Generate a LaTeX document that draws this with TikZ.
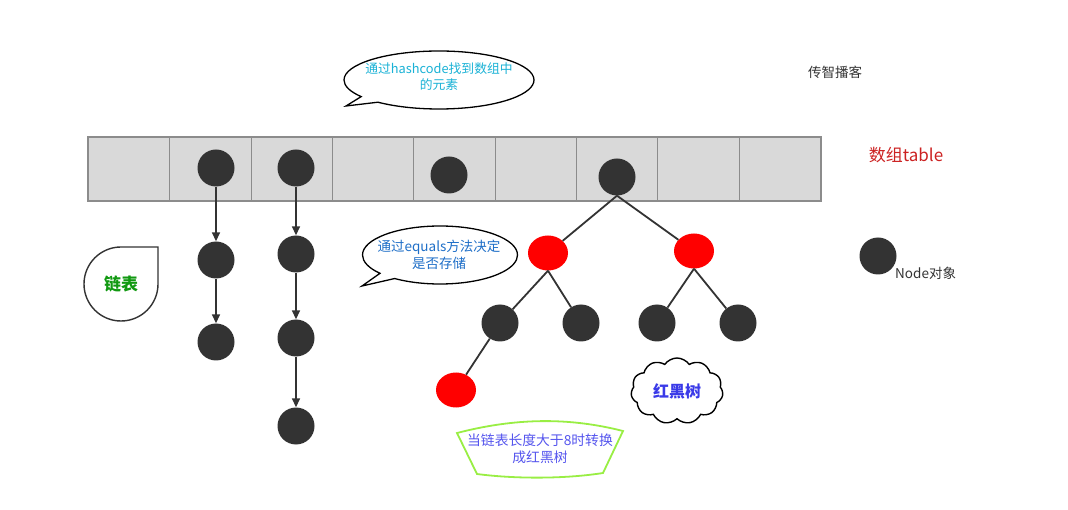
\documentclass[tikz,border=0pt]{standalone}
\usepackage{fontspec}
\setmainfont{Noto Sans CJK SC}
\usetikzlibrary{shapes.geometric,shapes.callouts,shapes.symbols,arrows.meta}
\definecolor{nodegray}{HTML}{333333}
\definecolor{cellgray}{HTML}{D9D9D9}
\definecolor{cellline}{HTML}{8C8C8C}
\definecolor{cyantext}{HTML}{1AB2D6}
\definecolor{bluetext}{HTML}{1F6FC8}
\definecolor{greentext}{HTML}{119911}
\definecolor{violettext}{HTML}{3A3AE8}
\definecolor{fantext}{HTML}{5555EE}
\definecolor{fanline}{HTML}{99EE44}
\definecolor{tablered}{HTML}{CC2222}
\tikzset{
  bnode/.style={circle,fill=nodegray,minimum size=37pt,inner sep=0pt},
  rnode/.style={ellipse,fill=red,minimum width=40pt,minimum height=35pt,inner sep=0pt},
  cell/.style={draw=cellline,fill=cellgray,line width=0.8pt,minimum width=81.33pt,minimum height=63pt,inner sep=0pt,anchor=north west},
  arr/.style={draw=nodegray,line width=1.6pt,-{Triangle[length=9pt,width=8pt]}},
  edge/.style={draw=nodegray,line width=1.8pt},
  callout/.style={ellipse callout,draw=black,line width=1.3pt,fill=white,inner sep=0pt},
  ctext/.style={align=center,inner sep=0pt}
}
\begin{document}
\begin{tikzpicture}[x=1pt,y=-1pt]
\useasboundingbox (0,0) rectangle (1068,510);
% array
\foreach \i in {0,...,8}{
  \node[cell] (c\i) at ({88+\i*81.333},137) {};
}
\draw[cellline,line width=1.8pt] (c0.north west) rectangle (c8.south east);
% top nodes
\node[bnode] (a1) at (216,168) {};
\node[bnode] (a2) at (296,168) {};
\node[bnode] (a3) at (449,175) {};
\node[bnode] (root) at (617,177) {};
% chain 1
\node[bnode] (l11) at (216,260) {};
\node[bnode] (l12) at (216,342) {};
\draw[arr] (a1) -- (l11);
\draw[arr] (l11) -- (l12);
% chain 2
\node[bnode] (l21) at (296,254) {};
\node[bnode] (l22) at (296,338) {};
\node[bnode] (l23) at (296,426) {};
\draw[arr] (a2) -- (l21);
\draw[arr] (l21) -- (l22);
\draw[arr] (l22) -- (l23);
% tree
\node[rnode] (r1) at (548,253) {};
\node[rnode] (r2) at (694,251) {};
\node[bnode] (t1) at (500,323) {};
\node[bnode] (t2) at (581,323) {};
\node[bnode] (t3) at (657,323) {};
\node[bnode] (t4) at (738,323) {};
\node[rnode] (r3) at (456,390) {};
\draw[edge] (root.south) -- (r1);
\draw[edge] (root.south) -- (r2);
\draw[edge] (r1.south) -- (t1);
\draw[edge] (r1.south) -- (t2);
\draw[edge] (r2.south) -- (t3);
\draw[edge] (r2.south) -- (t4);
\draw[edge] (t1) -- (r3);
% legend
\node[bnode] (leg) at (878,256) {};
\node[anchor=west,font=\fontsize{13.5}{16}\selectfont,text=nodegray,inner sep=0pt] (legtext) at (895,273) {Node对象};
% labels
\node[font=\fontsize{13.5}{16}\selectfont,text=nodegray] (brand) at (835,72) {传智播客};
\node[font=\fontsize{17}{20}\selectfont,text=tablered] (tablelbl) at (906,155) {数组table};
% callouts
\node[callout,minimum width=190pt,minimum height=58pt,callout absolute pointer={(346,106)}] (call1) at (439,80) {};
\node[ctext,text=cyantext,font=\fontsize{12.8}{16}\selectfont] (call1text) at (439,77) {通过hashcode找到数组中\\的元素};
\node[callout,minimum width=155pt,minimum height=58pt,callout absolute pointer={(362,286)}] (call2) at (440,255) {};
\node[ctext,text=bluetext,font=\fontsize{13.5}{17}\selectfont] (call2text) at (439,255) {通过equals方法决定\\是否存储};
% linked list tear shape
\draw[black!80,line width=1.4pt,fill=white] (158,247) -- (158,284) arc[start angle=0,end angle=270,radius=37] -- cycle;
\node[font=\bfseries\fontsize{17}{20}\selectfont,text=greentext] (lltext) at (121,284) {链表};
% cloud
\node[cloud,cloud puffs=11,cloud puff arc=110,aspect=1.4,draw=black,line width=1.4pt,fill=white,minimum width=92pt,minimum height=66pt,font=\bfseries\fontsize{16}{19}\selectfont,text=violettext] (cloud) at (677,391) {红黑树};
% fan shape
\draw[fanline,line width=1.8pt,fill=white] (457,433) .. controls (515,418) and (568,417) .. (623,431) -- (603,473) .. controls (565,479) and (515,479) .. (477,474) -- cycle;
\node[align=center,font=\fontsize{13.8}{17}\selectfont,text=fantext] (fantxt) at (540,449) {当链表长度大于8时转换\\成红黑树};
\end{tikzpicture}
\end{document}
